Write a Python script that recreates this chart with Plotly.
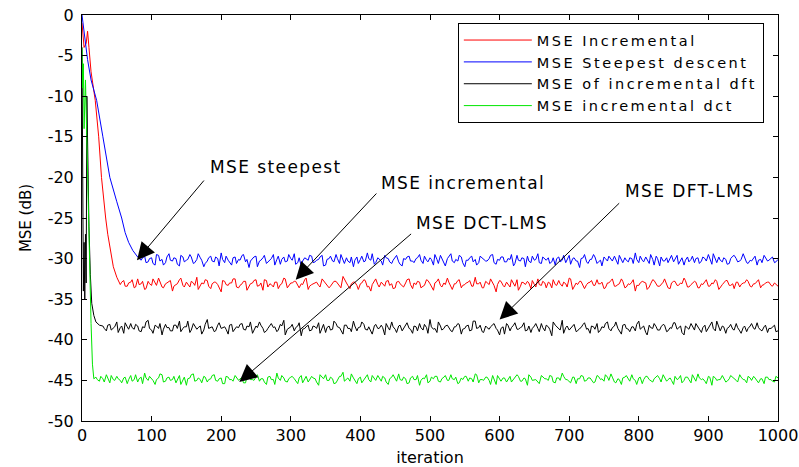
import plotly.graph_objects as go

# ---------------- data ----------------
blue_head_x = [0, 2, 5, 8, 13, 21, 30, 40, 50, 57, 62, 67, 73, 80]
blue_head_y = [0, -1.5, -4, -5.5, -8, -10.5, -15, -20, -23, -25, -26.8, -28, -29, -29.8]
blue_tail_start = 85
blue_tail_y = [
    -30.2, -29.7, -30.4, -29.9, -30.8, -29.6, -30.1, -30.5, -29.4, -30.3, -30.0, -30.9, -29.8, -30.2, -29.5, -30.6, -30.1, -29.9, -31.0, -30.3,
    -29.7, -30.4, -30.0, -29.3, -30.5, -30.2, -30.8, -29.8, -30.1, -29.6, -30.4, -31.1, -30.0, -29.7, -30.3, -29.9, -30.6, -30.2, -29.5, -30.1,
    -30.7, -29.8, -30.3, -30.0, -29.4, -30.5, -30.9, -29.9, -30.2, -29.7, -30.4, -30.1, -29.6, -30.8, -30.0, -30.3, -29.5, -30.6, -30.2, -29.9,
    -30.5, -31.0, -29.8, -30.1, -30.4, -29.3, -30.2, -30.7, -29.9, -30.3, -29.6, -30.0, -30.6, -29.8, -30.4, -30.9, -30.1, -29.7, -30.3, -30.0,
    -29.5, -30.6, -30.2, -29.9, -30.8, -30.1, -29.6, -30.4, -30.0, -29.4, -30.5, -30.3, -29.8, -31.0, -30.2, -29.7, -30.1, -30.5, -29.9, -30.3,
    -30.0, -29.5, -30.7, -30.2, -29.8, -30.4, -30.1, -30.9, -29.6, -30.3, -30.0, -29.7, -30.5, -30.2, -29.4, -30.6, -30.1, -29.9, -30.4, -30.8,
    -29.8, -30.2, -30.5, -29.6, -30.0, -30.3, -31.1, -29.9, -30.4, -30.1, -29.5, -30.6, -30.2, -29.8, -30.3, -30.0, -29.7, -30.7, -30.1, -29.9,
    -30.4, -30.0, -29.3, -30.5, -30.2, -29.8, -30.6, -30.1, -29.7, -30.9, -30.3, -29.9, -30.0, -30.4, -29.6, -30.2, -30.8, -29.8, -30.1, -30.5,
    -29.9, -30.3, -30.0, -29.5, -30.7, -30.2, -29.8, -30.4, -30.1, -30.6, -29.7, -30.0, -30.3, -29.4, -30.5, -30.2, -29.9, -30.8, -30.1, -29.6,
    -30.3, -30.0, -30.5, -30.1,
]
blue_mid_y = [
    -29.9, -30.5, -30.0, -30.6, -29.5, -30.3, -30.8, -29.8, -30.2, -29.9, -30.7, -29.6, -30.4, -30.1, -29.8, -30.5, -29.4, -30.2, -30.6, -29.9,
    -30.3, -29.8, -30.9, -30.1, -29.7, -30.4, -29.9, -30.6, -30.2, -29.5, -30.1, -30.3, -29.8, -31.0, -30.2, -29.6, -30.4, -30.0, -30.8, -29.7,
    -30.1, -30.4, -29.5, -30.2, -30.7, -29.9, -30.3, -30.0, -29.6, -30.5, -30.2, -29.8, -30.9, -30.1, -29.7, -30.4, -30.0, -29.5, -30.6, -30.3,
    -29.8, -30.2, -30.6, -29.7, -30.3, -30.0, -29.4, -30.5, -30.1, -30.8, -29.9, -30.4, -30.2, -29.6, -30.7, -30.0, -29.8, -30.3, -30.5, -29.9,
    -30.2, -29.7, -30.4, -30.1, -29.5, -30.6, -30.0, -30.9, -29.8, -30.3, -30.1, -29.6, -30.5, -30.2, -29.9, -30.4, -30.8, -29.7, -30.0, -30.3,
    -29.6, -30.5, -30.1, -29.8, -30.4, -30.0, -29.5, -30.6, -30.2, -29.9, -31.0, -30.3, -29.7, -30.1, -30.5, -29.8, -30.2, -30.6, -29.9, -30.0,
    -30.4, -29.6, -30.2, -30.7, -29.9, -30.3, -30.0, -29.5, -30.6, -30.1, -29.8, -30.4, -30.9, -30.0, -29.7, -30.3, -30.1, -29.6, -30.5, -30.2,
    -29.9, -30.6, -30.1, -29.7, -30.4, -30.2, -29.5, -30.8, -30.0, -29.8, -30.3, -30.5, -29.6, -30.1, -30.7, -29.9, -30.2, -30.4, -29.7, -30.0,
    -30.6, -29.8, -30.3, -30.1, -29.4, -30.5, -30.2, -29.9, -30.7, -30.0, -29.6, -30.4, -30.1, -29.8, -30.6, -30.3, -29.7, -30.2, -30.5, -29.9,
    -30.2, -29.8, -30.4, -30.0,
]

red_head_x = [0, 3, 6, 8, 10, 13, 19, 24, 28, 31, 34, 37, 41, 45, 50]
red_head_y = [-1, -4, -3.5, -2, -4, -7, -10.5, -15, -20, -23, -25, -27, -29, -31, -32.3]
red_tail_start = 55
red_tail_y = [
    -33.2, -32.7, -33.4, -32.9, -33.6, -32.5, -33.1, -33.8, -32.8, -33.3, -33.0, -32.4, -33.5, -33.1, -32.8, -34.0, -33.2, -32.6, -33.3, -32.9,
    -33.5, -33.0, -32.3, -33.4, -33.1, -32.7, -33.7, -32.9, -33.2, -34.1, -32.8, -33.3, -33.0, -32.5, -33.6, -33.1, -32.8, -33.4, -33.0, -32.6,
    -33.3, -33.9, -32.7, -33.1, -33.5, -32.9, -33.2, -32.4, -33.6, -33.0, -32.8, -33.4, -33.1, -32.6, -33.8, -33.2, -32.9, -33.3, -32.5, -33.0,
    -33.6, -33.1, -32.8, -33.4, -32.2, -33.0, -33.7, -32.9, -33.3, -33.1, -32.6, -33.5, -34.0, -32.8, -33.2, -32.9, -33.4, -32.7, -33.1, -33.6,
    -32.8, -33.3, -33.0, -32.5, -33.7, -33.2, -32.9, -33.4, -32.6, -33.1, -33.9, -32.8, -33.3, -33.0, -32.4, -33.5, -33.1, -32.7, -33.6, -33.2,
    -32.9, -33.4, -32.3, -33.1, -33.6, -32.8, -33.2, -33.0, -34.1, -32.7, -33.3, -32.9, -33.5, -33.1, -32.6, -33.4, -33.0, -32.8, -33.7, -33.2,
    -32.5, -33.3, -33.0, -32.9, -33.6, -33.2, -32.7, -33.4, -33.1, -32.4, -33.8, -33.0, -32.8, -33.5, -33.2, -32.9, -33.3, -32.6, -33.1, -33.7,
    -33.0, -32.7, -33.4, -33.2, -32.5, -33.6, -33.1, -32.9, -34.0, -33.3, -32.8, -33.0, -33.5, -32.6, -33.2, -33.4, -32.9, -33.1, -33.7, -32.8,
    -33.3, -33.0, -32.4, -33.5, -33.2, -32.8, -33.6, -33.1, -32.9, -33.4, -33.0, -32.6, -33.8, -33.2, -32.7, -33.3, -33.1, -32.9, -33.5, -33.0,
    -32.6, -33.4, -33.1, -32.8, -33.6, -33.2, -32.9, -33.3, -33.0, -33.4,
]
red_mid_y = [
    -32.9, -33.4, -33.0, -32.6, -33.5, -33.2, -32.8, -33.7, -33.1, -32.5, -33.3, -32.9, -33.6, -33.0, -32.7, -33.4, -33.1, -32.4, -33.5, -33.2,
    -32.8, -33.3, -33.8, -33.0, -32.6, -33.4, -33.1, -32.9, -33.6, -32.7, -33.2, -33.0, -32.5, -33.5, -33.3, -32.8, -33.9, -33.1, -32.7, -33.4,
    -33.0, -32.6, -33.5, -33.2, -32.9, -33.7, -33.1, -32.5, -33.3, -33.0, -32.8, -33.6, -33.2, -32.4, -33.4, -33.1, -32.9, -33.5, -32.7, -33.2,
    -33.4, -32.8, -33.0, -33.6, -32.6, -33.3, -33.1, -32.9, -33.8, -33.0, -32.7, -33.4, -33.2, -32.5, -33.5, -33.1, -32.8, -33.3, -33.7, -32.9,
    -33.1, -33.5, -32.6, -33.2, -33.0, -32.8, -33.6, -33.3, -32.7, -33.4, -33.0, -32.5, -33.5, -33.2, -32.9, -33.8, -33.1, -32.6, -33.3, -33.0,
    -32.7, -33.4, -33.1, -32.9, -33.6, -33.0, -32.5, -33.3, -33.2, -32.8, -33.5, -33.1, -32.6, -33.4, -33.9, -32.9, -33.2, -33.0, -32.7, -33.5,
    -33.2, -32.8, -33.6, -33.0, -32.6, -33.3, -33.1, -32.9, -33.5, -32.5, -33.4, -33.2, -32.8, -33.7, -33.0, -32.7, -33.3, -33.1, -32.9, -33.6,
    -33.0, -32.5, -33.4, -33.1, -32.8, -33.5, -33.2, -32.6, -33.3, -33.0, -32.9, -33.8, -33.1, -32.7, -33.4, -33.2, -32.5, -33.6, -33.0, -32.8,
    -33.3, -33.1, -32.7, -33.5, -33.0, -32.9, -33.6, -33.2, -32.6, -33.4, -33.1, -32.8, -33.5, -33.0, -32.7, -33.3, -33.7, -32.9, -33.2, -33.0,
    -32.8, -33.5, -33.1, -32.6, -33.3, -33.0, -32.9, -33.4, -33.2, -32.8,
]

black_head_x = [0, 1, 2, 3, 4, 5, 6, 7, 8, 10, 12, 14, 17, 20, 25]
black_head_y = [-4, -26, -34, -28, -35, -27, -33, -10, -16, -26, -32, -35.5, -37, -37.8, -38.2]
black_tail_start = 30
black_tail_y = [
    -38.3, -38.9, -38.1, -38.6, -37.8, -38.5, -39.2, -38.4, -38.0, -38.7, -38.3, -39.0, -38.5, -37.6, -38.8, -38.2, -38.6, -39.4, -38.1, -38.5,
    -38.9, -38.2, -37.7, -38.6, -38.4, -39.1, -38.0, -38.7, -38.3, -38.8, -37.5, -38.5, -39.0, -38.2, -38.6, -38.4, -39.3, -38.1, -38.7, -38.5,
    -38.0, -38.8, -38.4, -39.2, -38.3, -37.8, -38.6, -38.9, -38.2, -38.5, -39.0, -38.1, -37.6, -38.7, -38.4, -38.9, -38.3, -39.5, -38.6, -38.2,
    -38.8, -38.4, -37.9, -38.6, -39.1, -38.3, -38.7, -38.0, -38.5, -39.3, -38.2, -38.6, -37.7, -38.9, -38.4, -38.1, -38.8, -39.0, -38.3, -38.6,
    -38.2, -39.4, -38.5, -37.8, -38.7, -38.3, -38.9, -38.1, -38.6, -39.2, -38.4, -38.0, -38.8, -38.5, -37.5, -38.7, -39.1, -38.3, -38.6, -38.2,
    -38.9, -38.4, -38.0, -39.3, -38.6, -38.2, -38.8, -37.7, -38.5, -39.0, -38.3, -38.7, -38.1, -38.6, -39.4, -38.4, -38.0, -38.9, -38.2, -38.7,
    -38.5, -37.9, -38.8, -39.1, -38.3, -38.6, -38.0, -38.9, -38.4, -39.5, -38.2, -38.7, -37.6, -38.5, -38.8, -38.3, -39.0, -38.6, -38.1, -38.7,
    -39.2, -38.4, -38.0, -38.8, -38.5, -37.8, -38.9, -38.3, -38.6, -39.3, -38.1, -38.7, -38.4, -38.9, -37.7, -38.5, -39.1, -38.2, -38.6, -38.4,
    -38.8, -38.1, -39.0, -38.5, -37.9, -38.7, -38.3, -39.4, -38.6, -38.0, -38.8, -38.4, -39.1, -38.2, -38.6, -37.8, -38.9, -38.5, -38.3, -39.2,
    -38.4, -38.7, -38.0, -38.9, -38.5, -39.0, -38.3, -38.6, -37.9, -38.8, -38.4, -39.1, -38.6, -38.2, -38.9,
]
black_mid_y = [
    -38.6, -38.2, -38.8, -38.4, -39.1, -38.3, -37.9, -38.7, -38.5, -38.1, -38.9, -38.4, -37.8, -38.6, -39.2, -38.3, -38.0, -38.7, -38.5, -38.9,
    -38.2, -38.6, -39.0, -38.4, -37.7, -38.8, -38.3, -38.5, -39.3, -38.1, -38.6, -38.4, -38.9, -37.9, -38.5, -38.7, -38.2, -39.0, -38.4, -38.1,
    -38.7, -38.3, -37.8, -38.9, -38.5, -38.2, -39.1, -38.6, -38.0, -38.4, -38.8, -38.3, -39.4, -38.6, -38.1, -38.5, -37.9, -38.7, -38.4, -38.9,
    -38.3, -38.6, -39.2, -38.1, -38.5, -38.8, -37.7, -38.4, -38.9, -38.2, -38.6, -39.0, -38.3, -38.5, -37.8, -38.7, -38.4, -39.3, -38.1, -38.6,
    -38.5, -38.0, -38.8, -38.4, -39.1, -38.2, -38.6, -37.9, -38.7, -38.3, -38.9, -38.5, -38.1, -39.2, -38.4, -38.6, -37.8, -38.8, -38.3, -38.5,
    -39.0, -38.4, -38.1, -38.7, -38.3, -38.9, -37.7, -38.6, -38.2, -39.1, -38.5, -38.4, -38.0, -38.8, -38.6, -39.3, -38.2, -38.5, -37.9, -38.7,
    -38.4, -38.9, -38.3, -38.6, -38.0, -39.0, -38.5, -38.2, -38.7, -37.8, -38.4, -38.8, -39.2, -38.3, -38.6, -38.1, -38.9, -38.5, -37.9, -38.6,
    -38.3, -38.7, -39.1, -38.4, -38.0, -38.6, -38.5, -37.8, -38.9, -38.2, -38.6, -39.0, -38.4, -38.1, -38.7, -38.3, -39.4, -38.5, -38.0, -38.8,
    -38.4, -38.2, -38.9, -38.6, -37.9, -38.5, -39.1, -38.3, -38.7, -38.4, -38.0, -38.8, -38.5, -39.0, -38.2, -38.6, -37.7, -38.9, -38.4, -38.6,
    -38.1, -38.8, -38.5, -39.2, -38.3, -38.6, -38.0, -38.7, -38.5, -38.9, -38.2, -38.6, -38.4, -39.0, -38.5,
]

green_head_x = [0, 1, 2, 3, 5, 7, 9, 11, 13, 15, 17]
green_head_y = [-4, -9, -6, -14, -8, -16, -24, -31, -38, -43, -44.8]
green_tail_start = 20
green_tail_y = [
    -44.6, -45.1, -44.8, -44.3, -45.3, -44.9, -44.5, -45.0, -44.7, -45.4, -44.4, -44.9, -45.2, -44.6, -44.1, -45.0, -44.8, -45.5, -44.7, -44.3,
    -45.1, -44.6, -44.9, -45.3, -44.4, -44.8, -45.6, -44.7, -44.2, -45.0, -44.9, -44.5, -45.2, -44.8, -44.3, -45.1, -44.7, -45.4, -44.6, -44.9,
    -44.4, -45.0, -44.7, -45.3, -44.2, -44.9, -44.6, -45.1, -44.8, -45.5, -44.5, -44.9, -44.1, -45.0, -44.7, -45.2, -44.6, -44.8, -45.4, -44.4,
    -44.9, -45.2, -44.5, -44.8, -45.6, -44.6, -44.3, -45.0, -44.8, -45.3, -44.5, -44.0, -44.9, -45.1, -44.7, -45.4, -44.6, -44.9, -44.3, -45.2,
    -44.8, -44.4, -45.1, -44.7, -45.5, -44.6, -44.9, -44.2, -45.0, -44.8, -45.3, -44.5, -44.9, -45.6, -44.7, -44.3, -45.1, -44.8, -44.5, -45.2,
    -44.6, -45.0, -44.3, -44.9, -45.4, -44.7, -44.5, -45.1, -44.8, -44.2, -45.3, -44.9, -44.6, -45.0, -44.4, -45.5, -44.8, -44.7, -45.2, -44.5,
    -44.9, -44.3, -45.1, -44.7, -45.6, -44.6, -44.9, -45.2, -44.4, -44.8, -45.0, -44.5, -45.3, -44.7, -44.1, -44.9, -45.1, -44.6, -45.4, -44.8,
    -44.5, -45.0, -44.7, -45.3, -44.4, -44.9, -45.1, -44.6, -44.2, -45.2, -44.8, -45.5, -44.6, -44.9, -44.3, -45.0, -44.7, -45.4, -44.5, -44.9,
    -45.2, -44.6, -44.8, -44.3, -45.1, -44.7, -45.5, -44.9, -44.4, -45.0, -44.6, -45.3, -44.8, -44.2, -44.9, -45.1, -44.5, -45.6, -44.7, -44.9,
    -44.4, -45.2, -44.8, -44.6, -45.0, -44.3, -44.9, -45.3, -44.7, -44.5, -45.1, -44.8, -45.4, -44.6, -44.9, -45.2, -44.7,
]
green_mid_y = [
    -44.9, -44.5, -45.2, -44.7, -44.4, -45.0, -44.8, -45.3, -44.6, -44.9, -45.1, -44.3, -44.8, -45.4, -44.7, -44.5, -45.0, -44.9, -44.2, -45.2,
    -44.7, -45.0, -44.5, -44.9, -45.5, -44.6, -44.8, -44.3, -45.1, -44.7, -45.3, -44.6, -44.9, -44.4, -45.0, -44.8, -45.4, -44.5, -44.9, -45.1,
    -44.6, -44.8, -45.3, -44.5, -44.9, -45.0, -44.3, -44.8, -45.2, -44.6, -44.9, -45.5, -44.7, -44.4, -45.1, -44.8, -44.5, -45.0, -44.7, -45.3,
    -44.5, -44.9, -44.7, -45.2, -44.3, -44.8, -45.0, -44.6, -45.4, -44.9, -44.5, -45.1, -44.7, -44.2, -45.0, -44.8, -45.3, -44.6, -44.9, -44.4,
    -45.0, -44.7, -44.5, -45.2, -44.8, -44.3, -45.1, -44.9, -44.6, -45.4, -44.7, -44.9, -44.4, -45.0, -44.8, -45.3, -44.6, -44.5, -45.1, -44.8,
    -44.4, -45.0, -44.8, -44.6, -45.3, -44.9, -44.5, -44.7, -45.2, -44.3, -44.9, -45.0, -44.6, -45.5, -44.8, -44.4, -45.1, -44.7, -44.9, -45.2,
    -44.7, -44.5, -45.1, -44.8, -44.3, -45.0, -44.9, -45.4, -44.6, -44.8, -44.4, -45.2, -44.7, -45.0, -44.5, -44.9, -45.3, -44.6, -44.8, -44.4,
    -45.1, -44.7, -44.9, -45.2, -44.5, -44.8, -44.3, -45.0, -44.6, -45.3, -44.9, -44.7, -44.4, -45.1, -44.8, -45.5, -44.6, -44.9, -44.5, -45.0,
    -44.8, -44.4, -45.2, -44.7, -44.9, -45.0, -44.5, -44.8, -45.3, -44.6, -44.9, -44.3, -45.1, -44.7, -44.8, -45.4, -44.6, -44.5, -45.0, -44.9,
    -44.7, -45.1, -44.4, -44.8, -45.2, -44.6, -44.9, -44.5, -45.0, -44.7, -45.3, -44.8, -44.6, -44.9, -45.1, -44.5, -44.8,
]
tail_step = 5
mid_offset = 2

series_names = ["MSE Incremental", "MSE Steepest descent", "MSE of incremental dft", "MSE incremental dct"]
series_colors = ["#ff0000", "#0000ff", "#000000", "#00e600"]

x_tick_vals = [0, 100, 200, 300, 400, 500, 600, 700, 800, 900, 1000]
x_tick_text = ["0", "100", "200", "300", "400", "500", "600", "700", "800", "900", "1000"]
y_tick_vals = [0, -5, -10, -15, -20, -25, -30, -35, -40, -45, -50]
y_tick_text = ["0", "-5", "-10", "-15", "-20", "-25", "-30", "-35", "-40", "-45", "-50"]

# annotations: label, text position (x, y), arrow tail (x, y), arrow head (x, y)
ann_labels = ["MSE steepest", "MSE incremental", "MSE DCT-LMS", "MSE DFT-LMS"]
ann_text_xy = [(181, -18.7), (426, -20.7), (477, -25.6), (777, -21.7)]
ann_tail_xy = [(177, -20.2), (425, -21.8), (475, -26.8), (774, -23.0)]
ann_head_xy = [(79, -30.2), (307, -32.6), (226, -45.2), (600, -37.5)]


def full_series(head_x, head_y, start, tail, mid):
    pts = list(zip(head_x, head_y))
    pts += [(start + tail_step * i, v) for i, v in enumerate(tail)]
    pts += [(start + tail_step * i + mid_offset, v) for i, v in enumerate(mid)
            if start + tail_step * i + mid_offset <= 1000]
    pts.sort(key=lambda p: p[0])
    return [p[0] for p in pts], [p[1] for p in pts]


data = [
    full_series(red_head_x, red_head_y, red_tail_start, red_tail_y, red_mid_y),
    full_series(blue_head_x, blue_head_y, blue_tail_start, blue_tail_y, blue_mid_y),
    full_series(black_head_x, black_head_y, black_tail_start, black_tail_y, black_mid_y),
    full_series(green_head_x, green_head_y, green_tail_start, green_tail_y, green_mid_y),
]

FONT = "DejaVu Sans"


def spaced(t, px):
    return '<span style="letter-spacing:%spx">%s</span>' % (px, t)


fig = go.Figure()
for (xs, ys), name, col in zip(data, series_names, series_colors):
    fig.add_trace(go.Scatter(x=xs, y=ys, mode="lines", name=spaced(name, 2.5),
                             line=dict(color=col, width=1)))

annotations = []
for lab, (tx, ty), (ax_, ay_), (hx, hy) in zip(ann_labels, ann_text_xy, ann_tail_xy, ann_head_xy):
    annotations.append(dict(x=hx, y=hy, ax=ax_, ay=ay_, xref="x", yref="y", axref="x", ayref="y",
                            text="", showarrow=True, arrowhead=2, arrowsize=3.5, arrowwidth=1,
                            arrowcolor="black", standoff=0, startstandoff=0))
    annotations.append(dict(x=tx, y=ty, xref="x", yref="y", text=spaced(lab, 1.4), showarrow=False,
                            xanchor="left", yanchor="middle",
                            font=dict(family=FONT, size=17, color="black")))

axis_common = dict(showline=True, linecolor="black", linewidth=1, mirror="allticks",
                   ticks="inside", ticklen=5, tickcolor="black", tickwidth=1,
                   showgrid=False, zeroline=False, automargin=False,
                   tickfont=dict(family=FONT, size=16, color="black"))

fig.update_layout(
    width=799, height=467,
    margin=dict(l=82, r=21, t=15, b=46, autoexpand=False),
    paper_bgcolor="white", plot_bgcolor="white",
    font=dict(family=FONT, size=16, color="black"),
    xaxis=dict(range=[0, 1000], tickmode="array", tickvals=x_tick_vals, ticktext=x_tick_text,
               title=dict(text="iteration", font=dict(family=FONT, size=16, color="black"), standoff=14),
               **axis_common),
    yaxis=dict(range=[-50, 0], tickmode="array", tickvals=y_tick_vals, ticktext=y_tick_text,
               ticklabelstandoff=4,
               title=dict(text="MSE (dB)", font=dict(family=FONT, size=15, color="black"), standoff=12),
               **axis_common),
    legend=dict(x=0.54, y=0.98, xanchor="left", yanchor="top",
                bgcolor="white", bordercolor="black", borderwidth=1,
                font=dict(family=FONT, size=14.5, color="black"),
                itemwidth=68, tracegroupgap=0),
    annotations=annotations,
    showlegend=True,
)

fig.write_html("out.html")
